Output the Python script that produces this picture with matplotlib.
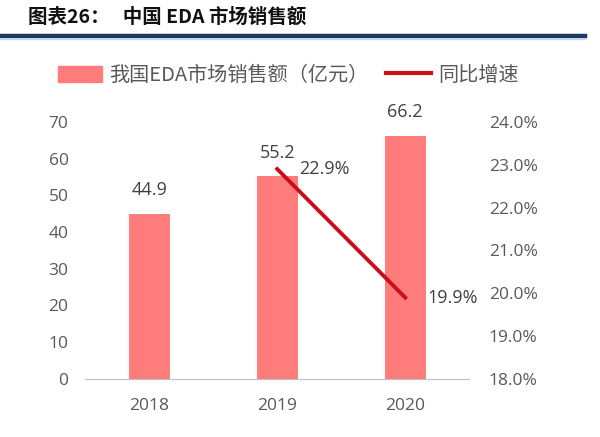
import matplotlib
matplotlib.use("Agg")
import matplotlib.pyplot as plt
from matplotlib.lines import Line2D
from matplotlib.patches import Patch

years = ["2018", "2019", "2020"]
sales = [44.9, 55.2, 66.2]
growth_years = ["2019", "2020"]
growth = [0.229, 0.199]
left_ticks = [0, 10, 20, 30, 40, 50, 60, 70]
right_ticks = [0.18, 0.19, 0.20, 0.21, 0.22, 0.23, 0.24]

plt.rcParams['font.family'] = ['Open Sans', 'Noto Sans CJK SC', 'DejaVu Sans']
bar_color = "#FF7C7C"
line_color = "#C8101A"
text_color = "#404040"
tick_color = "#595959"

fig = plt.figure(figsize=(6, 4.37), dpi=100)
ax = fig.add_axes([0.142, 0.133, 0.64, 0.588])
ax2 = ax.twinx()

x = list(range(len(years)))
ax.bar(x, sales, width=0.32, color=bar_color, zorder=2)
ax.set_xlim(-0.5, 2.5)
ax.set_ylim(0, 70)
ax.set_yticks(left_ticks)
ax.set_yticklabels([str(t) for t in left_ticks])
ax.set_xticks(x)
ax.set_xticklabels(years)
for s in ["top", "right", "left"]:
    ax.spines[s].set_visible(False)
ax.spines["bottom"].set_color("#BFBFBF")
ax.tick_params(axis="both", length=0, labelsize=12.5, colors=tick_color)
ax.tick_params(axis="x", pad=14)
ax.tick_params(axis="y", pad=12)

for xi, v in zip(x, sales):
    ax.text(xi, v + 4.0, f"{v}", ha="center", va="bottom", fontsize=13, color=text_color)

gx = [years.index(g) for g in growth_years]
ax2.plot(gx, growth, color=line_color, lw=2.8, zorder=3)
ax2.set_ylim(0.18, 0.24)
ax2.set_yticks(right_ticks)
ax2.set_yticklabels([f"{t*100:.1f}%" for t in right_ticks])
for s in ["top", "right", "left", "bottom"]:
    ax2.spines[s].set_visible(False)
ax2.tick_params(axis="y", length=0, labelsize=12.5, colors=tick_color, pad=14)
for gxi, g in zip(gx, growth):
    ax2.text(gxi + 0.17, g, f"{g*100:.1f}%", ha="left", va="center",
             fontsize=13, color=text_color)

# title
fig.text(0.047, 0.962, "图表26：   中国 EDA 市场销售额", fontsize=14, fontweight="bold",
         color="#111111", va="center", ha="left", family=['Noto Sans CJK SC', 'DejaVu Sans'])
fig.add_artist(Line2D([0.0, 0.975], [0.918, 0.918], color="#1F3864", lw=3.2))
fig.add_artist(Line2D([0.0, 0.975], [0.910, 0.910], color="#BDD7EE", lw=1.0))

handles = [Patch(color=bar_color), Line2D([], [], color=line_color, lw=3)]
labels = ["我国EDA市场销售额（亿元）", "同比增速"]
fig.legend(handles, labels, loc="center", bbox_to_anchor=(0.48, 0.828), ncol=2, frameon=False,
           handlelength=2.2, handleheight=0.85, columnspacing=0.9, handletextpad=0.35,
           labelcolor=tick_color, prop={'family': ['Noto Sans CJK SC', 'DejaVu Sans'], 'size': 14.5})

fig.savefig("out.png", dpi=100, facecolor="white")
